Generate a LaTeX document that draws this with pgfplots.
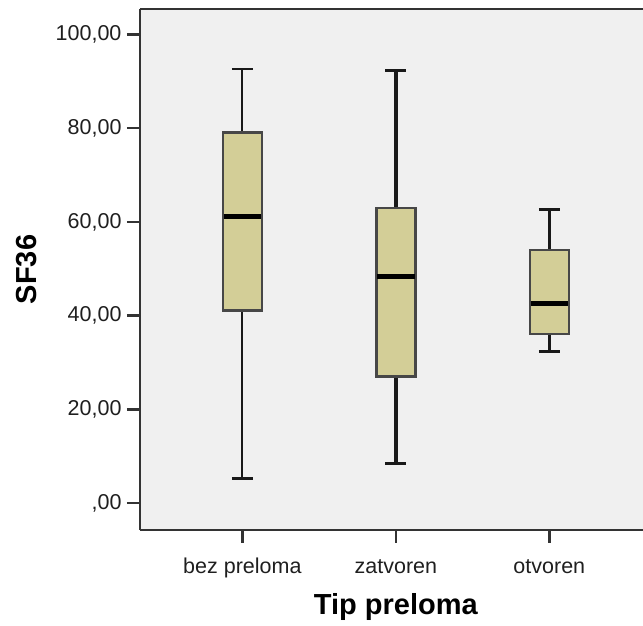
\documentclass[border=0pt]{standalone}
\usepackage{fontspec}
\setmainfont{Liberation Sans}
\usepackage{pgfplots}
\pgfplotsset{compat=1.18}
\definecolor{bg}{HTML}{F0F0F0}
\definecolor{boxfill}{HTML}{D3CE97}
\definecolor{frame}{HTML}{333333}
\begin{document}
\begin{tikzpicture}
\useasboundingbox (0pt,0pt) rectangle (643pt,626pt);
\begin{axis}[
  at={(140pt,96pt)}, anchor=south west,
  scale only axis, width=511.7pt, height=521pt,
  xmin=-0.667, xmax=2.667, ymin=-5.7, ymax=105.4,
  axis background/.style={fill=bg},
  axis x line=box, axis y line=left,
  axis line style={-, line width=2.4pt, color=frame},
  tick align=outside, major tick length=13pt,
  tick style={line width=2.4pt, color=frame},
  xtick={0,1,2}, xticklabels={bez preloma,zatvoren,otvoren},
  xtick pos=bottom, ytick pos=left,
  ytick={0,20,40,60,80,100},
  yticklabels={{,00},{20,00},{40,00},{60,00},{80,00},{100,00}},
  tick label style={font=\fontsize{21.5}{24}\selectfont, color=black!88},
  xticklabel style={anchor=base, yshift=-31pt, text height=0pt},
  yticklabel style={xshift=-2pt},
  xlabel={Tip preloma}, ylabel={SF36},
  label style={font=\fontsize{29}{32}\selectfont\bfseries},
  xlabel style={at={(axis description cs:0.5,-0.1631)}, anchor=base},
  ylabel style={at={(axis description cs:-0.2013,0.5)}, anchor=base},
  whisk/.style={black!90, mark=none},
  boxst/.style={draw=black!72, fill=boxfill, line width=2.4pt, mark=none},
  med/.style={black, line width=5pt, mark=none},
]
% --- bez preloma (x=0): 5.3 / 41.1 / 61.1 / 79.1 / 92.6
\addplot[whisk, line width=2.2pt] coordinates {(0,5.3) (0,41.1)};
\addplot[whisk, line width=2.2pt] coordinates {(0,79.1) (0,92.6)};
\addplot[whisk, line width=2.6pt] coordinates {(-0.0685,5.3) (0.0685,5.3)};
\addplot[whisk, line width=2.6pt] coordinates {(-0.0685,92.6) (0.0685,92.6)};
\addplot[boxst] coordinates {(-0.127,41.1) (0.127,41.1) (0.127,79.1) (-0.127,79.1)} -- cycle;
\addplot[med] coordinates {(-0.122,61.1) (0.122,61.1)};
% --- zatvoren (x=1): 8.45 / 27.0 / 48.3 / 62.9 / 92.3
\addplot[whisk, line width=4pt] coordinates {(1,8.45) (1,27.0)};
\addplot[whisk, line width=4pt] coordinates {(1,62.9) (1,92.3)};
\addplot[whisk, line width=3.6pt] coordinates {(0.9315,8.45) (1.0685,8.45)};
\addplot[whisk, line width=3.6pt] coordinates {(0.9315,92.3) (1.0685,92.3)};
\addplot[boxst] coordinates {(0.873,27.0) (1.127,27.0) (1.127,62.9) (0.873,62.9)} -- cycle;
\addplot[med] coordinates {(0.878,48.3) (1.122,48.3)};
% --- otvoren (x=2): 32.4 / 36.05 / 42.7 / 54.0 / 62.6
\addplot[whisk, line width=2.6pt] coordinates {(2,32.4) (2,36.05)};
\addplot[whisk, line width=2.6pt] coordinates {(2,54.0) (2,62.6)};
\addplot[whisk, line width=2.6pt] coordinates {(1.9315,32.4) (2.0685,32.4)};
\addplot[whisk, line width=2.6pt] coordinates {(1.9315,62.6) (2.0685,62.6)};
\addplot[boxst] coordinates {(1.873,36.05) (2.127,36.05) (2.127,54.0) (1.873,54.0)} -- cycle;
\addplot[med] coordinates {(1.878,42.7) (2.122,42.7)};
\end{axis}
\end{tikzpicture}
\end{document}
